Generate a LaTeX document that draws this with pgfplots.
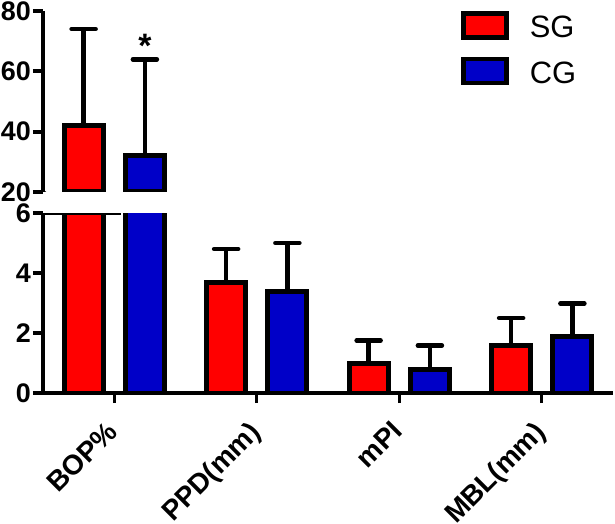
\documentclass[border=0pt]{standalone}
\usepackage{pgfplots}
\pgfplotsset{compat=1.18}
\usepackage{fontspec}
\setmainfont{Liberation Sans}
\definecolor{sgred}{RGB}{255,0,0}
\definecolor{cgblue}{RGB}{0,0,200}
\begin{document}
\begin{tikzpicture}
\pgfplotsset{
  common/.style={
    scale only axis, width=570bp, xmin=-0.5, xmax=3.5,
    axis line style={line width=4bp, black},
    major tick length=10bp,
    tick align=outside,
    /pgf/number format/assume math mode=true,
    yticklabel style={font=\bfseries\fontsize{27}{27}\selectfont, inner sep=2bp},
    ytick style={line width=4bp, black},
    clip=true,
  },
  errs/.style={error bars/.cd, y dir=plus, y explicit,
    error bar style={line width=4.5bp, black},
    error mark options={black, line width=4.5bp, mark size=12bp, rotate=90, line cap=round}},
  sgbar/.style={ybar, fill=sgred, draw=black, line width=5bp, bar width=0.275, bar shift=0,
    legend image code/.code={\draw[fill=sgred, draw=black, line width=4.5bp] (0bp,-10bp) rectangle (43bp,14bp); \path (62bp,0bp);}},
  cgbar/.style={ybar, fill=cgblue, draw=black, line width=5bp, bar width=0.275, bar shift=0,
    legend image code/.code={\draw[fill=cgblue, draw=black, line width=4.5bp] (0bp,-10bp) rectangle (43bp,14bp); \path (62bp,0bp);}},
}
% lower segment
\begin{axis}[common, height=180bp, ymin=0, ymax=6, ytick={0,2,4,6},
  axis x line*=bottom, axis y line*=left,
  xtick={0,1,2,3}, xticklabels={BOP\%, PPD(mm), mPI, MBL(mm)},
  xtick style={line width=3bp, black},
  xticklabel style={xshift=-9bp, yshift=-15bp, rotate=45, anchor=north east, font=\bfseries\fontsize{28}{28}\selectfont, inner sep=1bp},
]
\addplot[sgbar, errs] coordinates {(-0.215,42) +- (0,32) (0.785,3.7) +- (0,1.1) (1.785,1.0) +- (0,0.75) (2.785,1.6) +- (0,0.9)};
\addplot[cgbar, errs] coordinates {(0.215,32) +- (0,32) (1.215,3.37) +- (0,1.63) (2.215,0.78) +- (0,0.8) (3.215,1.88) +- (0,1.1)};
\draw[line width=4bp] (rel axis cs:0,1) -- ++(7bp,0);
\end{axis}
% upper segment
\begin{axis}[common, at={(0,201bp)}, height=181bp, ymin=20, ymax=80, ytick={20,40,60,80},
  axis x line=none, axis y line*=left, xtick=\empty,
  legend style={at={(rel axis cs:0.733,1.0)}, anchor=north west, draw=none, fill=none,
    font=\fontsize{31}{31}\selectfont, row sep=16bp, inner sep=0pt},
  legend cell align=left,
]
\addplot[sgbar, errs] coordinates {(-0.215,42) +- (0,32)};
\addplot[cgbar, errs] coordinates {(0.215,32) +- (0,32)};
\legend{SG, CG}
\node[font=\bfseries\fontsize{34}{34}\selectfont] at (axis cs:0.215,68.5) {*};
\draw[line width=4bp] (rel axis cs:0,0) -- ++(7bp,0);
\end{axis}
\pgfresetboundingbox
\path (-43bp,-131bp) rectangle (572bp,393bp);
\end{tikzpicture}
\end{document}
